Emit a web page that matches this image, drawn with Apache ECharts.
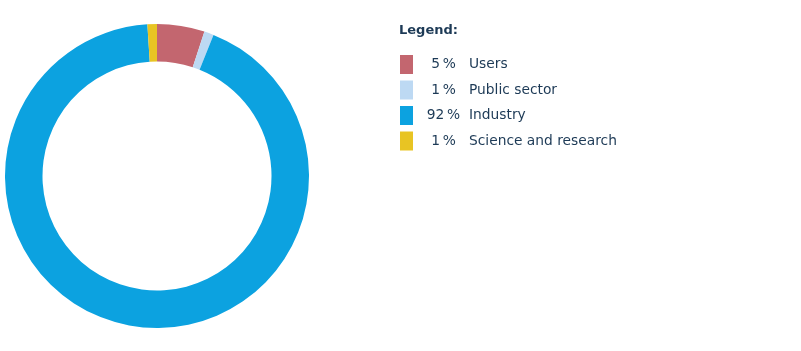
<!DOCTYPE html>
<html lang="en">
<head>
    <meta charset="UTF-8">
    <title>Donut</title>
    <script src="https://cdn.jsdelivr.net/npm/echarts@6/dist/echarts.min.js"></script>
    <style>
        body { margin: 0; background: #ffffff; }
        #chart { width: 801px; height: 351px; }
    </style>
</head>
<body>
<div id="chart"></div>
<script>
    // data
    var categories = ['Users', 'Public sector', 'Industry', 'Science and research'];
    var shares = [5, 1, 92, 1];
    var colorList = ['#c3666f', '#bdd9f3', '#0ca2e0', '#e8c423'];

    var textColor = '#1d3a56';
    var fontName = 'DejaVu Sans';
    var chart = echarts.init(document.getElementById('chart'));

    var pieData = categories.map(function (name, i) {
        return { name: name, value: shares[i], itemStyle: { color: colorList[i] } };
    });

    var option = {
        backgroundColor: '#ffffff',
        animation: false,
        title: {
            text: 'Legend:',
            left: 399,
            top: 24,
            padding: 0,
            textStyle: { color: textColor, fontFamily: fontName, fontSize: 13, fontWeight: 'bold' }
        },
        legend: {
            orient: 'vertical',
            left: 400,
            top: 55,
            padding: 0,
            icon: 'rect',
            itemWidth: 13,
            itemHeight: 19,
            itemGap: 6.5,
            selectedMode: false,
            data: categories,
            formatter: function (name) {
                var i = categories.indexOf(name);
                return '{p|' + shares[i] + '\u2009%}{n|' + name + '}';
            },
            textStyle: {
                color: textColor,
                fontFamily: fontName,
                fontSize: 13.8,
                rich: {
                    p: { width: 51, align: 'right', color: textColor, fontFamily: fontName, fontSize: 13.8 },
                    n: { padding: [0, 0, 0, 0], color: textColor, fontFamily: fontName, fontSize: 13.8 }
                }
            }
        },
        series: [{
            type: 'pie',
            center: [157, 176],
            radius: [114.5, 152],
            startAngle: 90,
            clockwise: true,
            silent: true,
            label: { show: false },
            labelLine: { show: false },
            data: pieData
        }]
    };

    chart.setOption(option);
</script>
</body>
</html>
